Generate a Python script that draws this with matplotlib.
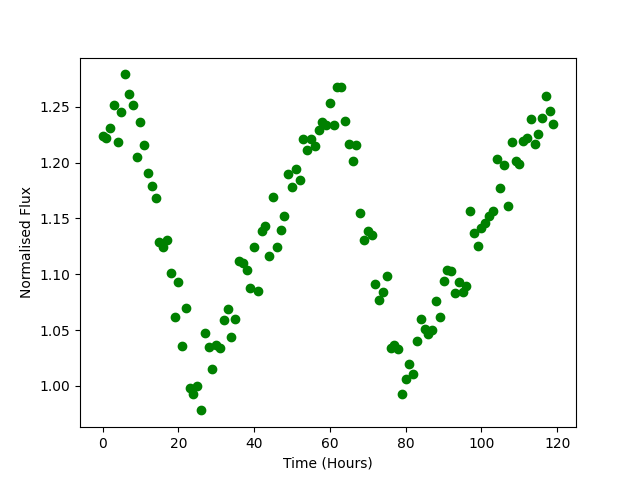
import numpy as np
import matplotlib
matplotlib.use("Agg")
import matplotlib.pyplot as plt

# hourly flux readings
time = np.arange(0, 120)  # hours
flux = [
    1.224, 1.222, 1.231, 1.252, 1.218, 1.245, 1.279, 1.261, 1.252, 1.205,
    1.236, 1.216, 1.191, 1.179, 1.168, 1.129, 1.124, 1.131, 1.101, 1.062,
    1.093, 1.036, 1.070, 0.998, 0.993, 1.000, 0.978, 1.047, 1.035, 1.015,
    1.037, 1.034, 1.059, 1.069, 1.044, 1.060, 1.112, 1.110, 1.104, 1.088,
    1.124, 1.085, 1.139, 1.143, 1.116, 1.169, 1.124, 1.140, 1.152, 1.190,
    1.178, 1.194, 1.184, 1.221, 1.211, 1.221, 1.215, 1.229, 1.236, 1.234,
    1.253, 1.234, 1.268, 1.268, 1.237, 1.217, 1.201, 1.216, 1.155, 1.131,
    1.139, 1.135, 1.091, 1.077, 1.084, 1.098, 1.034, 1.037, 1.033, 0.993,
    1.006, 1.020, 1.011, 1.040, 1.060, 1.051, 1.046, 1.050, 1.076, 1.062,
    1.094, 1.104, 1.103, 1.083, 1.093, 1.084, 1.089, 1.157, 1.137, 1.125,
    1.141, 1.146, 1.152, 1.157, 1.203, 1.177, 1.198, 1.161, 1.218, 1.201,
    1.199, 1.219, 1.222, 1.239, 1.217, 1.226, 1.240, 1.260, 1.246, 1.235,
]

plt.figure(figsize=(6.4, 4.8), dpi=100)
plt.plot(time, flux, "go")
plt.xlabel("Time (Hours)")
plt.ylabel("Normalised Flux")
plt.savefig("out.png")
